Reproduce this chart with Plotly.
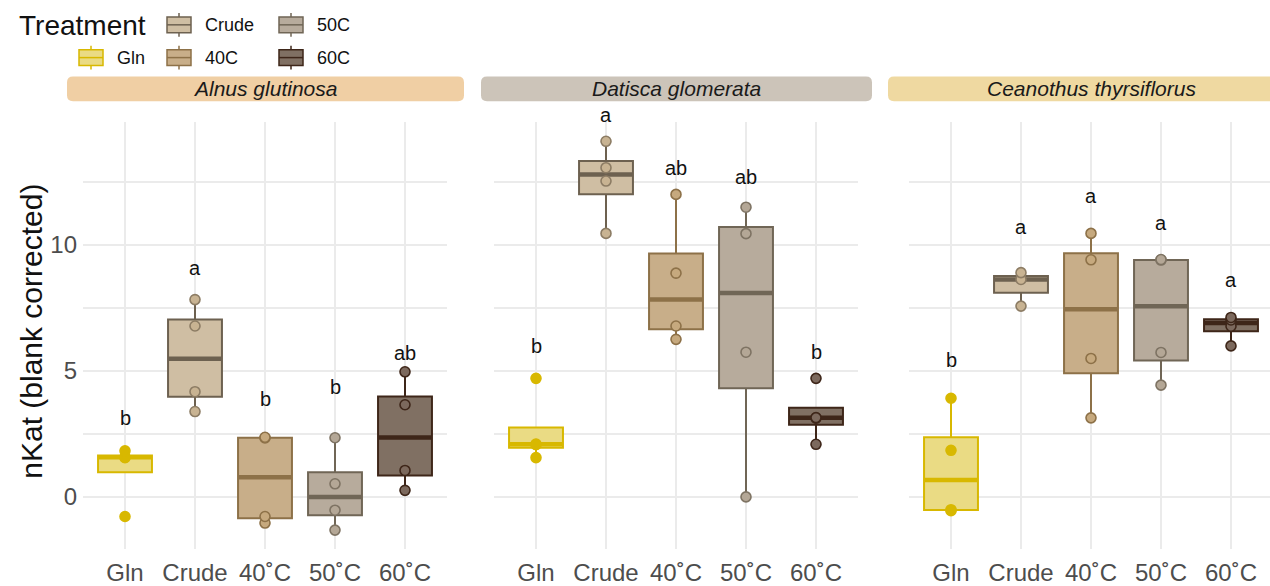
import numpy as np
import plotly.graph_objects as go

W, H = 1270, 586

# ---- data -------------------------------------------------------------
treatments = ["Gln", "Crude", "40C", "50C", "60C"]
tick_labels = ["Gln", "Crude", "40˚C", "50˚C", "60˚C"]
species = ["Alnus glutinosa", "Datisca glomerata", "Ceanothus thyrsiflorus"]

# nKat (blank corrected), one list of replicates per treatment
alnus_nkat = [
    [-0.79, 1.55, 1.57, 1.82],
    [3.38, 4.17, 6.78, 7.83],
    [-1.05, -0.79, 2.33, 2.36],
    [-1.33, -0.54, 0.51, 2.34],
    [0.25, 1.04, 3.65, 4.96],
]
datisca_nkat = [
    [1.55, 2.07, 2.09, 4.70],
    [10.46, 12.54, 13.07, 14.12],
    [6.25, 6.78, 8.88, 12.01],
    [-0.01, 5.74, 10.45, 11.50],
    [2.08, 3.12, 3.14, 4.70],
]
ceanothus_nkat = [
    [-0.56, -0.52, 1.84, 3.91],
    [7.57, 8.63, 8.90],
    [3.13, 5.49, 9.41, 10.46],
    [4.43, 5.73, 9.40, 9.42],
    [5.99, 6.77, 7.02, 7.12],
]

# compact letter display and where each group's letters sit
alnus_letters = ["b", "a", "b", "b", "ab"]
alnus_letter_y = [3.23, 9.2, 4.0, 4.47, 5.82]
datisca_letters = ["b", "a", "ab", "ab", "b"]
datisca_letter_y = [6.09, 15.3, 13.16, 12.83, 5.86]
ceanothus_letters = ["b", "a", "a", "a", "a"]
ceanothus_letter_y = [5.53, 10.82, 12.07, 10.99, 8.71]

# ---- styling ----------------------------------------------------------
box_fill = ["#EADB84", "#CFBEA3", "#C8AE89", "#B7AB9C", "#807063"]
box_line = ["#D8B800", "#6D6150", "#8D7148", "#706656", "#3E2619"]
point_fill = ["#D8B800", "#C8B392", "#C6A97E", "#B4A796", "#7C695D"]
point_line = ["#D8B800", "#8C7C64", "#8D7148", "#7E7363", "#3E2619"]
strip_fill = ["#F0CFA4", "#CCC4B9", "#EFD9A1"]
grid_col = "#EBEBEB"
FONT = "Liberation Sans, Arial, sans-serif"


def px(x):
    return x / W


def py(y):
    return 1 - y / H


# panel geometry (pixels)
panel_x = [(83, 447), (494, 858), (909, 1270)]
panel_top, panel_bottom = 123, 553
cat_step = 70.0
y_range = [-2.09, 14.88]
box_width = 0.77

panels = [
    (alnus_nkat, alnus_letters, alnus_letter_y),
    (datisca_nkat, datisca_letters, datisca_letter_y),
    (ceanothus_nkat, ceanothus_letters, ceanothus_letter_y),
]


def box_stats(vals):
    v = np.sort(np.asarray(vals, dtype=float))
    q1, med, q3 = np.percentile(v, [25, 50, 75])
    iqr = q3 - q1
    lo = v[v >= q1 - 1.5 * iqr].min()
    hi = v[v <= q3 + 1.5 * iqr].max()
    return q1, med, q3, lo, hi


def y_domain_frac(v):
    # position along the y axis as a fraction of its domain (may exceed 1)
    return (v - y_range[0]) / (y_range[1] - y_range[0])


fig = go.Figure()
annotations = []

for p, (data, letters, letter_y) in enumerate(panels):
    xa = "x" if p == 0 else f"x{p + 1}"
    ya = "y" if p == 0 else f"y{p + 1}"
    for i, vals in enumerate(data):
        q1, med, q3, lo, hi = box_stats(vals)
        fig.add_trace(go.Box(
            x=[i], q1=[q1], median=[med], q3=[q3],
            lowerfence=[lo], upperfence=[hi],
            orientation="v", width=box_width, boxpoints=False,
            fillcolor=box_fill[i], line=dict(color=box_line[i], width=2),
            whiskerwidth=0, hoverinfo="skip", showlegend=False,
            xaxis=xa, yaxis=ya,
        ))
        # heavier median bar
        fig.add_trace(go.Scatter(
            x=[i - box_width / 2 + 0.01, i + box_width / 2 - 0.01], y=[med, med],
            mode="lines", line=dict(color=box_line[i], width=4.5),
            hoverinfo="skip", showlegend=False, xaxis=xa, yaxis=ya,
        ))
        fig.add_trace(go.Scatter(
            x=[i] * len(vals), y=vals, mode="markers",
            marker=dict(size=10, color=point_fill[i],
                        line=dict(color=point_line[i], width=1.6)),
            hoverinfo="skip", showlegend=False, xaxis=xa, yaxis=ya,
        ))
    # significance letters (y given relative to the axis domain so that
    # letters above the panel top are still drawn)
    for i, (lab, ly) in enumerate(zip(letters, letter_y)):
        annotations.append(dict(
            x=i, y=y_domain_frac(ly), xref=xa, yref=ya + " domain",
            text=lab, showarrow=False,
            font=dict(family=FONT, size=20, color="#111111"),
            xanchor="center", yanchor="middle", yshift=-3,
        ))

layout = dict(
    width=W, height=H, autosize=False,
    margin=dict(l=0, r=0, t=0, b=0),
    paper_bgcolor="white", plot_bgcolor="white",
    font=dict(family=FONT),
    boxmode="overlay",
)

for p, (x0, x1) in enumerate(panel_x):
    sfx = "" if p == 0 else str(p + 1)
    first_cat = x0 + 0.6 * cat_step
    layout["xaxis" + sfx] = dict(
        domain=[px(x0), px(x1)],
        range=[-0.6, (x1 - first_cat) / cat_step],
        tickmode="array", tickvals=list(range(len(treatments))),
        ticktext=tick_labels,
        showgrid=True, gridcolor=grid_col, gridwidth=1.6,
        zeroline=False, showline=False, ticks="",
        tickfont=dict(size=24, color="#4D4D4D", family=FONT),
        ticklabelstandoff=7,
        anchor="y" + sfx, fixedrange=True,
    )
    layout["yaxis" + sfx] = dict(
        domain=[py(panel_bottom), py(panel_top)],
        range=y_range,
        tickmode="array", tickvals=[0, 5, 10],
        showticklabels=(p == 0),
        showgrid=True, gridcolor=grid_col, gridwidth=1.6,
        minor=dict(tickvals=[2.5, 7.5, 12.5], showgrid=True,
                   gridcolor=grid_col, gridwidth=1.6),
        zeroline=False, showline=False, ticks="",
        tickfont=dict(size=24, color="#4D4D4D", family=FONT),
        ticklabelstandoff=5,
        anchor="x" + sfx, fixedrange=True,
    )

fig.update_layout(**layout)


def rounded_rect(l, t, r, b, rad):
    pts = lambda x, y: f"{px(x):.5f},{py(y):.5f}"
    return (
        f"M {pts(l + rad, t)} L {pts(r - rad, t)} Q {pts(r, t)} {pts(r, t + rad)} "
        f"L {pts(r, b - rad)} Q {pts(r, b)} {pts(r - rad, b)} "
        f"L {pts(l + rad, b)} Q {pts(l, b)} {pts(l, b - rad)} "
        f"L {pts(l, t + rad)} Q {pts(l, t)} {pts(l + rad, t)} Z"
    )


shapes = []

# facet strips
strip_x = [(67, 464), (481, 872), (888, 1285)]
strip_top, strip_bottom = 77, 102
for p, (l, r) in enumerate(strip_x):
    shapes.append(dict(type="path", xref="paper", yref="paper",
                       path=rounded_rect(l, strip_top, r, strip_bottom, 6),
                       fillcolor=strip_fill[p], line=dict(width=0), layer="below"))
    cx = panel_x[p][0] + 182
    annotations.append(dict(
        x=px(cx), y=py((strip_top + strip_bottom) / 2), xref="paper", yref="paper",
        text=f"<i>{species[p]}</i>", showarrow=False,
        font=dict(size=21, color="#1A1A1A", family=FONT),
        xanchor="center", yanchor="middle",
    ))

# y-axis title
annotations.append(dict(
    x=px(32), y=py(334), xref="paper", yref="paper",
    text="nKat (blank corrected)", textangle=-90, showarrow=False,
    font=dict(size=30, color="#111111", family=FONT),
    xanchor="center", yanchor="middle",
))

# legend: title plus boxplot key glyphs
annotations.append(dict(
    x=px(17), y=py(26), xref="paper", yref="paper", text="Treatment",
    showarrow=False, font=dict(size=28, color="#111111", family=FONT),
    xanchor="left", yanchor="middle",
))
legend_slots = {  # treatment index -> (key left x, row centre y)
    0: (79, 58), 1: (167, 25), 2: (167, 58), 3: (279, 25), 4: (279, 58),
}
for i, (kx, ky) in legend_slots.items():
    kw, kh, wh = 24, 16, 4
    cx = kx + kw / 2
    shapes.append(dict(type="rect", xref="paper", yref="paper",
                       x0=px(kx), x1=px(kx + kw), y0=py(ky + kh / 2), y1=py(ky - kh / 2),
                       fillcolor=box_fill[i], line=dict(color=box_line[i], width=1.5)))
    shapes.append(dict(type="line", xref="paper", yref="paper",
                       x0=px(kx), x1=px(kx + kw), y0=py(ky), y1=py(ky),
                       line=dict(color=box_line[i], width=1.5)))
    for y_a, y_b in [(ky - kh / 2 - wh, ky - kh / 2), (ky + kh / 2, ky + kh / 2 + wh)]:
        shapes.append(dict(type="line", xref="paper", yref="paper",
                           x0=px(cx), x1=px(cx), y0=py(y_a), y1=py(y_b),
                           line=dict(color=box_line[i], width=1.5)))
    annotations.append(dict(
        x=px(kx + 36), y=py(ky), xref="paper", yref="paper", text=treatments[i],
        showarrow=False, font=dict(size=18, color="#111111", family=FONT),
        xanchor="left", yanchor="middle",
    ))

fig.update_layout(shapes=shapes, annotations=annotations)
fig.write_html("out.html")
